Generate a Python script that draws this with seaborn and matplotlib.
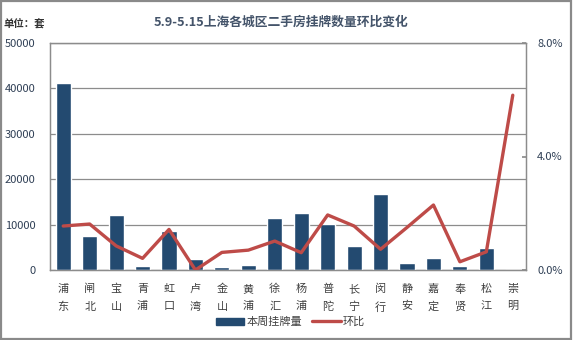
import matplotlib
matplotlib.use("Agg")
import matplotlib.pyplot as plt
import seaborn as sns
import numpy as np
from matplotlib.patches import Patch
from matplotlib.lines import Line2D
from matplotlib.ticker import FuncFormatter

districts = ["浦东", "闸北", "宝山", "青浦", "虹口", "卢湾", "金山", "黄浦", "徐汇",
             "杨浦", "普陀", "长宁", "闵行", "静安", "嘉定", "奉贤", "松江", "崇明"]
listings = [41100, 7500, 12200, 900, 8600, 2500, 700, 1100, 11500,
            12600, 10200, 5300, 16800, 1550, 2650, 900, 4900, 0]
mom_pct = [1.55, 1.62, 0.85, 0.41, 1.43, 0.00, 0.62, 0.70, 1.02,
           0.61, 1.94, 1.55, 0.73, 1.50, 2.29, 0.29, 0.64, 6.16]
left_ticks = [0, 10000, 20000, 30000, 40000, 50000]
right_ticks = [0.0, 4.0, 8.0]

title = "5.9-5.15上海各城区二手房挂牌数量环比变化"
unit_label = "单位：套"
bar_label = "本周挂牌量"
line_label = "环比"

sns.set_theme(style="white")
plt.rcParams["font.family"] = ["Noto Sans CJK SC", "DejaVu Sans"]

BAR = "#234a70"
LINE = "#be4b48"
GRID = "#8c8c8c"
TXT = "#2f3f55"

fig = plt.figure(figsize=(5.73, 3.40), dpi=100)
ax = fig.add_axes([50 / 573, 1 - 270 / 340, (526 - 50) / 573, (270 - 43) / 340])

sns.barplot(x=districts, y=listings, ax=ax, color=BAR, saturation=1, width=0.57, zorder=3)
ax.set_ylim(0, 50000)
ax.set_yticks(left_ticks)
ax.set_xlim(-0.5, len(districts) - 0.5)
ax.yaxis.grid(True, color=GRID, linewidth=0.9, zorder=0)
ax.set_axisbelow(True)
ax.set_xlabel("")
ax.set_ylabel("")
ax.set_xticks(range(len(districts)))
ax.set_xticklabels(["\n".join(d) for d in districts], linespacing=1.9,
                   fontsize=8, color="#404040")
ax.tick_params(axis="x", length=0, pad=10)
ax.tick_params(axis="y", length=0, pad=10.5, labelsize=8, labelcolor=TXT)
for s in ax.spines.values():
    s.set_color(GRID)
    s.set_linewidth(0.9)

ax2 = ax.twinx()
sns.lineplot(x=districts, y=mom_pct, ax=ax2, color=LINE, linewidth=2.4, sort=False, zorder=5)
ax2.set_ylim(0, 8)
ax2.set_yticks(right_ticks)
ax2.yaxis.set_major_formatter(FuncFormatter(lambda v, p: f"{v:.1f}%"))
ax2.tick_params(axis="y", length=3, direction="in", pad=8, labelsize=8,
                labelcolor=TXT, color=GRID)
ax2.set_ylabel("")
for s in ax2.spines.values():
    s.set_color(GRID)
    s.set_linewidth(0.9)
ax.set_xlim(-0.5, len(districts) - 0.5)

fig.text(281 / 573, 1 - 22 / 340, title, ha="center", va="center", fontsize=9.2,
         fontweight="bold", color="#44546a")
fig.text(4 / 573, 1 - 24 / 340, unit_label, ha="left", va="center", fontsize=7.5,
         fontweight="bold", color="#333333")

handles = [Patch(facecolor=BAR, edgecolor=BAR),
           Line2D([0], [0], color=LINE, linewidth=2.4)]
leg = fig.legend(handles, [bar_label, line_label], loc="center",
                 bbox_to_anchor=(290 / 573, 1 - 322 / 340), ncol=2, frameon=False,
                 fontsize=8, handlelength=2.6, handleheight=0.55, handletextpad=0.15,
                 columnspacing=0.9, labelcolor="#404040")

fig.patches.append(plt.Rectangle((0.002, 0.004), 0.995, 0.993, transform=fig.transFigure,
                                 fill=False, edgecolor="#8a8a8a", linewidth=1.6))

fig.savefig("out.png", dpi=100)
